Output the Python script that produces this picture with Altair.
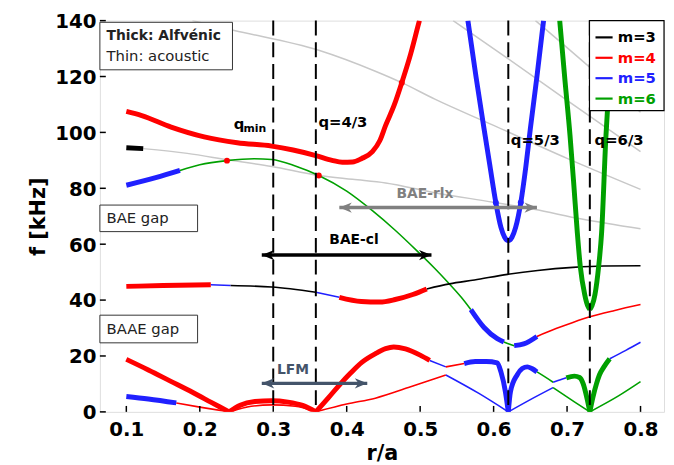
import altair as alt
import pandas as pd

# ---------------- data ----------------
x_ticks = [0.1, 0.2, 0.3, 0.4, 0.5, 0.6, 0.7, 0.8]
y_ticks = [0, 20, 40, 60, 80, 100, 120, 140]
m_labels = ["m=3", "m=4", "m=5", "m=6"]
m_colors = ["#000000", "#ff0000", "#2020ff", "#00a000"]

# top red branch (m=4, Alfvenic)
top_r = [0.1, 0.121, 0.161, 0.206, 0.251, 0.298, 0.327, 0.358, 0.38, 0.394, 0.408, 0.42, 0.435, 0.445, 0.453, 0.465, 0.475, 0.487, 0.497, 0.499]
top_f = [107.5, 106, 101.9, 98.4, 96.3, 95.1, 93.7, 91.7, 90.0, 89.3, 89.4, 90.6, 93.1, 97.0, 102.5, 110, 117.8, 128, 138, 140]
top_pieces = [(0.499, "m=4", "thick")]

# acoustic branch starting as m=3 (black)
g4_r = [0.1, 0.123, 0.183, 0.24, 0.298, 0.362, 0.408, 0.453, 0.52, 0.6, 0.655, 0.72, 0.8]
g4_f = [94.5, 94.2, 92.5, 90.1, 87.8, 84.6, 83.2, 81.9, 78.4, 75.0, 72.5, 69.0, 65.5]
g4_pieces = [(0.123, "m=3", "thick"), (0.8, "gray", "thin")]

# upper gray acoustic branches
g3_r = [0.19, 0.247, 0.362, 0.439, 0.475, 0.52, 0.6, 0.7, 0.8]
g3_f = [140, 136.5, 129.4, 121.9, 117.8, 111.9, 102.5, 90.7, 79.6]
g2_r = [0.545, 0.62, 0.7, 0.8]
g2_f = [140, 126.3, 111.5, 93.1]
g1_r = [0.657, 0.73, 0.8]
g1_f = [140, 123.5, 107.2]

# branch m=5 -> m=6 -> m=5 -> m=4
mid_r = [0.1, 0.14, 0.173, 0.2, 0.237, 0.274, 0.298, 0.33, 0.362, 0.4, 0.435, 0.466, 0.495, 0.52, 0.538, 0.556, 0.569, 0.587, 0.605, 0.614, 0.621, 0.628, 0.641, 0.659, 0.685, 0.708, 0.731, 0.765, 0.8]
mid_f = [81.1, 83.8, 86.4, 88.4, 89.9, 90.6, 90.3, 88.0, 84.6, 79.0, 72.0, 65.0, 57.8, 51.3, 46.3, 41.0, 36.6, 30.2, 26.2, 25.0, 24.3, 23.7, 24.3, 27.0, 29.8, 32.0, 34.0, 36.3, 38.4]
mid_pieces = [(0.173, "m=5", "thick"), (0.569, "m=6", "thin"), (0.614, "m=5", "thick"),
              (0.628, "m=6", "thin"), (0.659, "m=5", "thick"), (0.8, "m=4", "thin")]

# m=3 acoustic branch around 40-52 kHz
blk_r = [0.1, 0.15, 0.215, 0.242, 0.298, 0.358, 0.39, 0.42, 0.445, 0.466, 0.49, 0.509, 0.54, 0.574, 0.619, 0.66, 0.708, 0.75, 0.8]
blk_f = [44.9, 45.2, 45.5, 45.2, 44.7, 42.8, 41.0, 39.5, 39.3, 40.2, 42.0, 44.0, 45.8, 47.2, 49.2, 50.6, 51.7, 52.2, 52.3]
blk_pieces = [(0.215, "m=4", "thick"), (0.242, "m=5", "thin"), (0.358, "m=3", "thin"),
              (0.39, "m=5", "thin"), (0.509, "m=4", "thick"), (0.8, "m=3", "thin")]

# low-frequency upper branch
lo1_r = [0.1, 0.13, 0.16, 0.19, 0.215, 0.24, 0.255, 0.275, 0.298, 0.32, 0.34, 0.358, 0.375, 0.39, 0.405, 0.421, 0.439, 0.453, 0.464, 0.48, 0.5, 0.513, 0.535, 0.56, 0.575, 0.59, 0.605, 0.61, 0.616, 0.62, 0.623, 0.632, 0.639, 0.646, 0.652, 0.659, 0.67, 0.681, 0.69, 0.699, 0.71, 0.717, 0.722, 0.727, 0.731, 0.735, 0.74, 0.744, 0.75, 0.758, 0.78, 0.8]
lo1_f = [18.8, 15.0, 11.0, 7.0, 3.5, 0, 2.4, 3.7, 4.0, 3.5, 2.3, 0, 5.0, 9.6, 13.8, 17.8, 20.8, 22.6, 23.2, 22.5, 20.3, 18.4, 16.1, 17.3, 18.0, 18.0, 17.5, 14.3, 7.3, 0, 7.3, 13.2, 15.5, 16.1, 15.5, 14.3, 12.5, 10.6, 11.4, 12.2, 12.8, 12.3, 10.0, 5.0, 0, 5.0, 10.0, 13.2, 16.0, 19.0, 22.0, 24.9]
lo1_pieces = [(0.24, "m=4", "thick"), (0.358, "m=4", "thick"), (0.513, "m=4", "thick"),
              (0.535, "m=5", "thin"), (0.56, "m=4", "thin"), (0.62, "m=5", "thick"),
              (0.659, "m=5", "thick"), (0.681, "m=6", "thin"), (0.699, "m=5", "thin"),
              (0.731, "m=6", "thick"), (0.758, "m=6", "thick"), (0.8, "m=5", "thin")]

# low-frequency lower branch
lo2_r = [0.1, 0.13, 0.168, 0.2, 0.24, 0.27, 0.298, 0.33, 0.358, 0.4, 0.439, 0.484, 0.535, 0.58, 0.62, 0.65, 0.681, 0.71, 0.731, 0.77, 0.8]
lo2_f = [5.5, 4.6, 3.2, 1.7, 0, 2.0, 2.5, 2.0, 0, 2.8, 4.9, 8.7, 13.2, 6.6, 0, 4.4, 8.7, 3.6, 0, 5.7, 10.8]
lo2_pieces = [(0.168, "m=5", "thick"), (0.24, "m=4", "thin"), (0.358, "m=4", "thin"),
              (0.535, "m=4", "thin"), (0.62, "m=5", "thin"), (0.681, "m=5", "thin"),
              (0.731, "m=6", "thin"), (0.8, "m=6", "thin")]

# m=5 continuum around q=5/3
v5_r = [0.565, 0.576, 0.587, 0.595, 0.603, 0.61, 0.615, 0.62, 0.625, 0.63, 0.637, 0.644, 0.65, 0.659, 0.668]
v5_f = [140, 120, 101.3, 88, 74.9, 66, 62.5, 61.3, 62.5, 66, 74.9, 88, 101.3, 120, 140]
# m=6 continuum around q=6/3
v6_r = [0.69, 0.697, 0.704, 0.709, 0.714, 0.718, 0.724, 0.728, 0.731, 0.734, 0.738, 0.743, 0.747, 0.753, 0.755, 0.761, 0.765]
v6_f = [140, 119, 99, 82, 64, 52, 42, 38, 36.7, 38, 42, 52, 64, 99, 108, 130, 140]

# crossing dots
dot_r = [0.237, 0.362, 0.475, 0.603, 0.637]
dot_f = [89.9, 84.6, 117.8, 74.9, 74.9]
dot_m = ["m=4", "m=4", "m=4", "m=5", "m=5"]

# rational surfaces
q_r = [0.3, 0.358, 0.62, 0.731]

# arrows
arr_name = ["BAE-cl", "BAE-rlx", "LFM"]
arr_r1 = [0.2844, 0.39, 0.2844]
arr_r2 = [0.5154, 0.659, 0.428]
arr_f = [56.1, 73.1, 10.2]
arr_col = ["#000000", "#808080", "#44546a"]
arr_text_r = [0.41, 0.5065, 0.327]
arr_text_f = [61.4, 78.0, 14.8]

# ---------------- build tables ----------------
def segments(name, r, f, pieces):
    rows = []
    lo = r[0]
    for k, (hi, m, w) in enumerate(pieces):
        for i, (ri, fi) in enumerate(zip(r, f)):
            if lo - 1e-9 <= ri <= hi + 1e-9:
                rows.append({"seg": f"{name}{k}", "r": ri, "f": fi, "m": m, "w": w, "o": i})
        lo = hi
    return rows

rows = []
rows += segments("top", top_r, top_f, top_pieces)
rows += segments("g4", g4_r, g4_f, g4_pieces)
rows += segments("g3", g3_r, g3_f, [(0.8, "gray", "thin")])
rows += segments("g2", g2_r, g2_f, [(0.8, "gray", "thin")])
rows += segments("g1", g1_r, g1_f, [(0.8, "gray", "thin")])
rows += segments("mid", mid_r, mid_f, mid_pieces)
rows += segments("blk", blk_r, blk_f, blk_pieces)
rows += segments("lo1", lo1_r, lo1_f, lo1_pieces)
rows += segments("lo2", lo2_r, lo2_f, lo2_pieces)
rows += segments("v5", v5_r, v5_f, [(0.668, "m=5", "thick")])
rows += segments("v6", v6_r, v6_f, [(0.731, "m=6", "thick"), (0.765, "m=6", "thick")])
df = pd.DataFrame(rows)
df_gray = df[df.m == "gray"]
df_thin = df[(df.m != "gray") & (df.w == "thin")]
df_thick = df[(df.m != "gray") & (df.w == "thick")]

FONT = "DejaVu Sans"
W, H = 571, 396

cscale = alt.Scale(domain=m_labels, range=m_colors)
xscale = alt.Scale(domain=[0.064, 0.832], nice=False, zero=False)
X = alt.X("r:Q", scale=xscale,
          axis=alt.Axis(values=x_ticks, format=".1f", title="r/a", grid=False, domain=False,
                        ticks=False, labelFont=FONT, labelFontSize=20, labelFontWeight="bold",
                        labelColor="black", labelPadding=8, labelFlush=False,
                        titleFont=FONT, titleFontSize=21, titleFontWeight="bold",
                        titleColor="black", titleY=42, titleBaseline="middle"))
Y = alt.Y("f:Q", scale=alt.Scale(domain=[0, 140], nice=False, zero=True),
          axis=alt.Axis(values=y_ticks, title="f [kHz]", grid=False, domain=False, ticks=False,
                        labelFont=FONT, labelFontSize=20, labelFontWeight="bold",
                        labelColor="black", labelPadding=4, labelFlush=False, labelOffset=1,
                        titleFont=FONT, titleFontSize=21, titleFontWeight="bold",
                        titleColor="black", titleX=-62, titleY=H / 2, titleAngle=270,
                        titleAlign="center", titleBaseline="middle"))

gray = alt.Chart(df_gray).mark_line(color="#c8c8c8", strokeWidth=1.5, clip=True,
                                    interpolate="monotone").encode(
    x=X, y=Y, detail="seg:N", order="o:Q")
thin = alt.Chart(df_thin).mark_line(strokeWidth=1.6, clip=True, interpolate="monotone").encode(
    x=X, y=Y, detail="seg:N", order="o:Q", color=alt.Color("m:N", scale=cscale, legend=None))
thick = alt.Chart(df_thick).mark_line(strokeWidth=5, strokeJoin="round", clip=True,
                                      interpolate="monotone").encode(
    x=X, y=Y, detail="seg:N", order="o:Q", color=alt.Color("m:N", scale=cscale, legend=None))

dots = alt.Chart(pd.DataFrame({"r": dot_r, "f": dot_f, "m": dot_m})).mark_circle(
    size=36, opacity=1).encode(x=X, y=Y, color=alt.Color("m:N", scale=cscale, legend=None))

qlines = alt.Chart(pd.DataFrame({"r": q_r})).mark_rule(
    color="black", strokeWidth=2, strokeDash=[15, 7]).encode(x=X)

arr_df = pd.DataFrame({"name": arr_name, "r": arr_r1, "r2": arr_r2, "f": arr_f, "c": arr_col})
arr_lines = alt.Chart(arr_df).mark_rule(strokeWidth=3.5).encode(
    x=X, x2="r2:Q", y=Y, color=alt.Color("c:N", scale=None))
head_rows = []
for n, a, b, f, c in zip(arr_name, arr_r1, arr_r2, arr_f, arr_col):
    head_rows.append({"r": a, "f": f, "d": "L", "c": c})
    head_rows.append({"r": b, "f": f, "d": "R", "c": c})
pL = "M0,0L2.4,-1L1.7,0L2.4,1Z"
pR = "M0,0L-2.4,-1L-1.7,0L-2.4,1Z"
heads = alt.Chart(pd.DataFrame(head_rows)).mark_point(filled=True, opacity=1, strokeWidth=0).encode(
    x=X, y=Y, shape=alt.Shape("d:N", scale=alt.Scale(domain=["L", "R"], range=[pL, pR]), legend=None),
    color=alt.Color("c:N", scale=None), size=alt.value(110))
arr_txt = alt.Chart(pd.DataFrame({"r": arr_text_r, "f": arr_text_f, "t": arr_name, "c": arr_col})).mark_text(
    font=FONT, fontSize=14, fontWeight="bold").encode(
    x=X, y=Y, text="t:N", color=alt.Color("c:N", scale=None))

# annotation boxes
box_df = pd.DataFrame({"r": [0.064, 0.064, 0.064], "r2": [0.2445, 0.197, 0.197],
                       "f": [139.4, 74.0, 34.6], "f2": [122.4, 64.5, 24.7]})
boxes = alt.Chart(box_df).mark_rect(fill="white", stroke="#333333", strokeWidth=1).encode(
    x=X, x2="r2:Q", y=Y, y2="f2:Q")
box_bold = alt.Chart(pd.DataFrame({"r": [0.073], "f": [134.4], "t": ["Thick: Alfvénic"]})).mark_text(
    font=FONT, fontSize=14, fontWeight="bold", align="left", color="#222222").encode(x=X, y=Y, text="t:N")
box_norm = alt.Chart(pd.DataFrame({"r": [0.073, 0.073, 0.073], "f": [127.4, 69.2, 29.7],
                                   "t": ["Thin: acoustic", "BAE gap", "BAAE gap"]})).mark_text(
    font=FONT, fontSize=15, align="left", color="#222222").encode(x=X, y=Y, text="t:N")

# rational surface labels
q_txt = alt.Chart(pd.DataFrame({"r": [0.2463, 0.3615, 0.6235, 0.7375], "f": [103.0, 103.7, 97.3, 97.3],
                                "t": ["q", "q=4/3", "q=5/3", "q=6/3"]})).mark_text(
    font=FONT, fontSize=15, fontWeight="bold", align="left", color="black").encode(x=X, y=Y, text="t:N")
q_sub = alt.Chart(pd.DataFrame({"r": [0.2595], "f": [101.3], "t": ["min"]})).mark_text(
    font=FONT, fontSize=11, fontWeight="bold", align="left", color="black").encode(x=X, y=Y, text="t:N")

# legend (drawn as annotation)
leg_box = alt.Chart(pd.DataFrame({"r": [0.7305], "r2": [0.832], "f": [140], "f2": [107.8]})).mark_rect(
    fill="white", stroke="black", strokeWidth=1.2).encode(x=X, x2="r2:Q", y=Y, y2="f2:Q")
leg_df = pd.DataFrame({"r": [0.7387] * 4, "r2": [0.762] * 4, "rt": [0.769] * 4,
                       "f": [134.0, 126.7, 119.4, 112.1], "m": m_labels})
leg_lines = alt.Chart(leg_df).mark_rule(strokeWidth=2.2).encode(
    x=X, x2="r2:Q", y=Y, color=alt.Color("m:N", scale=cscale, legend=None))
leg_text = alt.Chart(leg_df).mark_text(font=FONT, fontSize=15, fontWeight="bold", align="left").encode(
    x=alt.X("rt:Q", scale=xscale), y=Y, text="m:N",
    color=alt.Color("m:N", scale=cscale, legend=None))

# inward ticks
xt = alt.Chart(pd.DataFrame({"r": x_ticks})).mark_rule(color="black", strokeWidth=1.5).encode(
    x=X, y=alt.value(H), y2=alt.value(H - 6))
yt = alt.Chart(pd.DataFrame({"f": y_ticks})).mark_rule(color="black", strokeWidth=1.5).encode(
    y=Y, x=alt.value(0), x2=alt.value(6))

chart = alt.layer(
    gray, boxes, box_bold, box_norm, thin, thick, dots, qlines, arr_lines, heads, arr_txt,
    q_txt, q_sub, leg_box, leg_lines, leg_text, xt, yt
).properties(
    width=W, height=H,
    autosize=alt.AutoSizeParams(type="none"),
    padding={"left": 93, "top": 10, "right": 2, "bottom": 51},
).configure_view(stroke="black", strokeWidth=2).configure(background="white")

chart.save("out.html", embed_options={"renderer": "svg", "actions": False})
